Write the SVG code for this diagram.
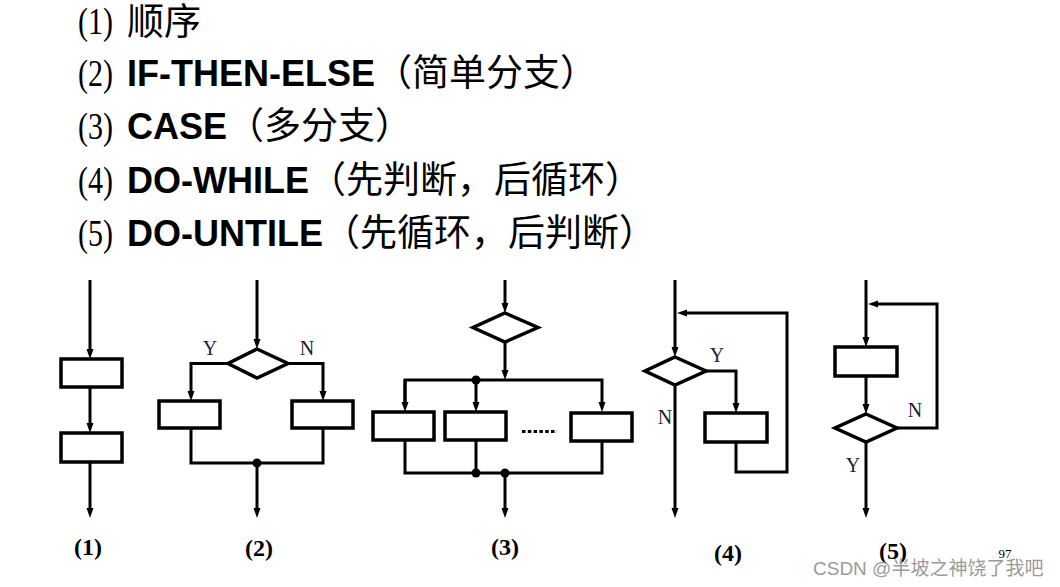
<svg xmlns="http://www.w3.org/2000/svg" width="1060" height="587" viewBox="0 0 1060 587">
<defs>
<style>
.t{font-family:"Liberation Sans","Noto Sans CJK SC",sans-serif;font-size:36px;font-weight:bold;fill:#000}
.c{font-family:"Noto Sans CJK SC",sans-serif;font-size:37px;font-weight:normal;fill:#000}
.n{font-family:"Liberation Serif",serif;font-size:38px;fill:#000}
.lab{font-family:"Liberation Serif",serif;font-size:24px;font-weight:bold;fill:#000;text-anchor:middle}
.yn{font-family:"Liberation Serif",serif;font-size:20px;fill:#1c1c3c;text-anchor:middle}
.box{fill:#fff;stroke:#000;stroke-width:3.5}
.ln{fill:none;stroke:#000;stroke-width:3}
.arr{fill:none;stroke:#000;stroke-width:3;marker-end:url(#ah)}
.dot{fill:#000}
</style>
<marker id="ah" markerUnits="userSpaceOnUse" markerWidth="11" markerHeight="8" refX="4" refY="3.5" orient="auto">
<path d="M0,0 L10,3.5 L0,7 z" fill="#000"/>
</marker>
</defs>
<rect width="1060" height="587" fill="#fff"/>

<g id="title">
<text x="78" y="34" class="n" textLength="35" lengthAdjust="spacingAndGlyphs">(1)</text>
<text x="127" y="35" class="c">顺序</text>
<text x="78" y="86" class="n" textLength="35" lengthAdjust="spacingAndGlyphs">(2)</text>
<text x="127" y="86"><tspan class="t">IF-THEN-ELSE</tspan><tspan class="c">（简单分支）</tspan></text>
<text x="78" y="139" class="n" textLength="35" lengthAdjust="spacingAndGlyphs">(3)</text>
<text x="127" y="139"><tspan class="t">CASE</tspan><tspan class="c">（多分支）</tspan></text>
<text x="78" y="193" class="n" textLength="35" lengthAdjust="spacingAndGlyphs">(4)</text>
<text x="127" y="193"><tspan class="t">DO-WHILE</tspan><tspan class="c">（先判断，后循环）</tspan></text>
<text x="78" y="246" class="n" textLength="35" lengthAdjust="spacingAndGlyphs">(5)</text>
<text x="127" y="246"><tspan class="t">DO-UNTILE</tspan><tspan class="c">（先循环，后判断）</tspan></text>
</g>

<g id="connectors">
<line class="arr" x1="90" y1="280" x2="90" y2="353"/>
<line class="arr" x1="90" y1="387" x2="90" y2="427"/>
<line class="arr" x1="90" y1="462" x2="90" y2="512"/>
<line class="arr" x1="257" y1="280" x2="257" y2="343"/>
<path class="arr" d="M228,363.5 H191 V395"/>
<path class="arr" d="M288,363.5 H323 V395"/>
<path class="ln" d="M191,428 V463 H323 V428"/>
<line class="arr" x1="257" y1="463" x2="257" y2="512"/>
<line class="arr" x1="505" y1="280" x2="505" y2="307"/>
<line class="arr" x1="505" y1="342" x2="505" y2="374"/>
<path class="arr" d="M405,406 V380 H602 V406"/>
<path class="arr" d="M405,380 V406"/>
<line class="arr" x1="476" y1="380" x2="476" y2="406"/>
<path class="ln" d="M405,440 V473 H602 V441"/>
<line class="ln" x1="476" y1="440" x2="476" y2="473"/>
<line class="arr" x1="505" y1="473" x2="505" y2="512"/>
<line class="arr" x1="675" y1="280" x2="675" y2="351"/>
<path class="arr" d="M706,371 H736 V407"/>
<path class="arr" d="M736,442 V472 H787 V313 H683"/>
<line class="arr" x1="675" y1="385" x2="675" y2="512"/>
<line class="arr" x1="866" y1="280" x2="866" y2="341"/>
<line class="arr" x1="866" y1="376" x2="866" y2="408"/>
<path class="arr" d="M897,428 H937 V304 H874"/>
<line class="arr" x1="866" y1="442" x2="866" y2="512"/>
</g>

<g id="d1-box1"><rect class="box" x="61" y="359" width="61" height="28"/></g>
<g id="d1-box2"><rect class="box" x="61" y="433" width="61" height="29"/></g>

<g id="d2-cond"><polygon class="box" points="257,349 288,363.5 257,378 228,363.5"/></g>
<g id="d2-boxY"><rect class="box" x="159" y="401" width="61" height="27"/></g>
<g id="d2-boxN"><rect class="box" x="292" y="401" width="61" height="27"/></g>
<g id="d2-join"><circle class="dot" cx="257" cy="463" r="4.5"/></g>
<g id="d2-labels"><text x="210" y="355" class="yn">Y</text><text x="307" y="355" class="yn">N</text></g>

<g id="d3-cond"><polygon class="box" points="505,313 538,327.5 505,342 473,327.5"/></g>
<g id="d3-fork"><circle class="dot" cx="476" cy="380" r="4.5"/></g>
<g id="d3-box1"><rect class="box" x="373" y="412" width="61" height="28"/></g>
<g id="d3-box2"><rect class="box" x="445" y="412" width="61" height="28"/></g>
<g id="d3-boxn"><rect class="box" x="571" y="413" width="61" height="28"/></g>
<g id="d3-ellipsis"><line x1="522" y1="431.5" x2="557" y2="431.5" stroke="#000" stroke-width="3" stroke-dasharray="3.5 2.3"/></g>
<g id="d3-join"><circle class="dot" cx="476" cy="473" r="4.5"/><circle class="dot" cx="505" cy="473" r="4.5"/></g>

<g id="d4-cond"><polygon class="box" points="675,357 706,371 675,385 645,371"/></g>
<g id="d4-body"><rect class="box" x="705" y="413" width="62" height="29"/></g>
<g id="d4-labels"><text x="717" y="362" class="yn">Y</text><text x="665" y="424" class="yn">N</text></g>

<g id="d5-body"><rect class="box" x="835" y="347" width="62" height="29"/></g>
<g id="d5-cond"><polygon class="box" points="866,414 897,428 866,442 835,428"/></g>
<g id="d5-labels"><text x="915" y="417" class="yn">N</text><text x="853" y="472" class="yn">Y</text></g>

<g id="captions">
<text x="88" y="555" class="lab">(1)</text>
<text x="259" y="556" class="lab">(2)</text>
<text x="505" y="555" class="lab">(3)</text>
<text x="728" y="561" class="lab">(4)</text>
<text x="893" y="559" class="lab">(5)</text>
<text x="1005" y="558" font-family="Liberation Serif,serif" font-size="13" text-anchor="middle">97</text>
</g>
<g id="watermark">
<text x="813" y="575" font-family="Liberation Sans,Noto Sans CJK SC,sans-serif" font-size="19" fill="#9a9a9a">CSDN @半坡之神饶了我吧</text>
</g>
</svg>
